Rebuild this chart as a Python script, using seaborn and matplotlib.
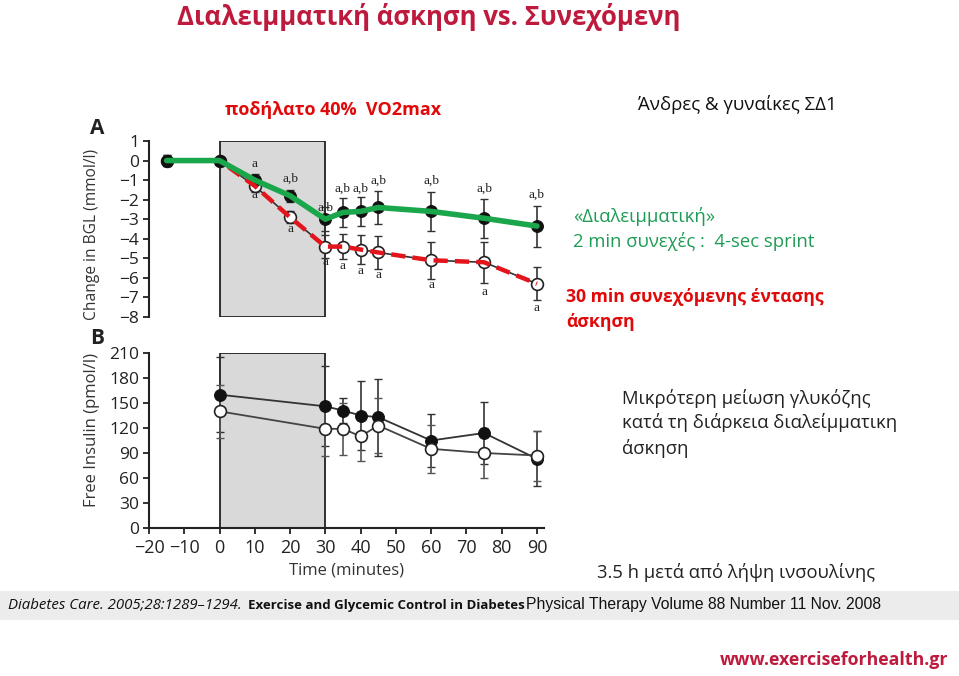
import numpy as np
import pandas as pd
import matplotlib
matplotlib.use("Agg")
import matplotlib.pyplot as plt
import seaborn as sns

# ---------------- data ----------------
time_A = [-15, 0, 10, 20, 30, 35, 40, 45, 60, 75, 90]
bgl_interval = [0, 0, -1.0, -1.8, -3.0, -2.65, -2.6, -2.4, -2.6, -2.95, -3.35]
bgl_continuous = [0, 0, -1.3, -2.9, -4.4, -4.4, -4.55, -4.7, -5.1, -5.2, -6.3]
bgl_interval_err = [0.3, 0, 0.3, 0.3, 0.6, 0.75, 0.75, 0.85, 1.0, 1.0, 1.05]
bgl_continuous_err = [0.3, 0, 0.3, 0.3, 0.6, 0.65, 0.75, 0.85, 0.95, 1.05, 0.85]

ann_top_x = [10, 20, 30, 35, 40, 45, 60, 75, 90]
ann_top_y = [-0.2, -0.95, -2.4, -1.45, -1.45, -1.05, -1.05, -1.45, -1.75]
ann_top_text = ["a", "a,b", "a,b", "a,b", "a,b", "a,b", "a,b", "a,b", "a,b"]
ann_bot_x = [10, 20, 30, 35, 40, 45, 60, 75, 90]
ann_bot_y = [-1.75, -3.5, -5.2, -5.4, -5.65, -5.85, -6.35, -6.7, -7.55]

time_B = [0, 30, 35, 40, 45, 60, 75, 90]
ins_interval = [160, 146, 141, 135, 133, 105, 114, 83]
ins_continuous = [140, 119, 119, 110, 123, 95, 90, 87]
ins_interval_err = [45, 48, 15, 41, 46, 32, 37, 33]
ins_continuous_err = [32, 32, 31, 29, 33, 29, 30, 30]

xticks_B = [-20, -10, 0, 10, 20, 30, 40, 50, 60, 70, 80, 90]
yticks_A = [1, 0, -1, -2, -3, -4, -5, -6, -7, -8]
yticks_B = [0, 30, 60, 90, 120, 150, 180, 210]

# ---------------- style ----------------
sns.set_theme(style="white")
plt.rcParams["font.family"] = ["Open Sans", "DejaVu Sans"]
plt.rcParams["axes.unicode_minus"] = True

W, H = 959, 676
fig = plt.figure(figsize=(W / 100, H / 100), dpi=100)
fig.patch.set_facecolor("white")


def fx(x):
    return x / W


def fy(y):
    return 1 - y / H


def axes_px(left, top, right, bottom):
    return fig.add_axes([fx(left), fy(bottom), fx(right) - fx(left), (bottom - top) / H])


XL = (-20, 92)
axA = axes_px(149, 141, 544, 317)
axB = axes_px(149, 353, 544, 528)

chart_font = ["Open Sans", "DejaVu Sans"]
serif_font = ["Liberation Serif", "DejaVu Serif"]

# ---------------- Panel A ----------------
dfA = pd.DataFrame({"time": time_A, "interval": bgl_interval, "continuous": bgl_continuous})
axA.axvspan(0, 30, ymin=0, ymax=1, facecolor="#d9d9d9", edgecolor="#222222", lw=1.3, zorder=0)
axA.errorbar(time_A, bgl_interval, yerr=bgl_interval_err, fmt="none", ecolor="#333333",
             elinewidth=1.2, capsize=3, zorder=2)
axA.errorbar(time_A, bgl_continuous, yerr=bgl_continuous_err, fmt="none", ecolor="#333333",
             elinewidth=1.2, capsize=3, zorder=2)
sns.lineplot(data=dfA, x="time", y="continuous", ax=axA, color="#333333", lw=1.2,
             marker="o", markersize=8.5, markerfacecolor="white", markeredgecolor="#222222",
             markeredgewidth=1.2, zorder=3)
sns.lineplot(data=dfA, x="time", y="interval", ax=axA, color="#333333", lw=1.2,
             marker="o", markersize=8.5, markerfacecolor="#111111", markeredgecolor="#111111",
             zorder=3)
# coloured overlay lines
sns.lineplot(data=dfA, x="time", y="continuous", ax=axA, color="#e3141b", lw=3.2,
             linestyle=(0, (3.2, 1.6)), zorder=5)
sns.lineplot(data=dfA, x="time", y="interval", ax=axA, color="#1aa64a", lw=4.0, zorder=6)

for x, y, t in zip(ann_top_x, ann_top_y, ann_top_text):
    axA.text(x, y, t, ha="center", va="center", fontsize=9.5, family=serif_font,
             color="#222222", zorder=7)
for x, y in zip(ann_bot_x, ann_bot_y):
    axA.text(x, y, "a", ha="center", va="center", fontsize=9.5, family=serif_font,
             color="#222222", zorder=7)

axA.set_xlim(*XL)
axA.set_ylim(-8, 1)
axA.set_yticks(yticks_A)
axA.set_xticks([])
for s in ["top", "right", "bottom"]:
    axA.spines[s].set_visible(False)
axA.spines["left"].set_color("#222222")
axA.spines["left"].set_linewidth(1.5)
axA.tick_params(axis="y", left=True, length=4, width=1.3, color="#222222",
                labelsize=12.5, pad=3, labelcolor="#222222")
for lab in axA.get_yticklabels():
    lab.set_family(chart_font)
axA.set_xlabel("")
axA.set_ylabel("Change in BGL (mmol/l)", fontsize=11.2, family=chart_font, color="#333333",
               labelpad=6)
axA.yaxis.set_label_coords(-0.125, 0.47)
axA.patch.set_alpha(0)

# ---------------- Panel B ----------------
dfB = pd.DataFrame({"time": time_B, "interval": ins_interval, "continuous": ins_continuous})
axB.axvspan(0, 30, facecolor="#d9d9d9", edgecolor="#222222", lw=1.3, zorder=0)
axB.errorbar(time_B, ins_interval, yerr=ins_interval_err, fmt="none", ecolor="#333333",
             elinewidth=1.2, capsize=3, zorder=2)
axB.errorbar(time_B, ins_continuous, yerr=ins_continuous_err, fmt="none", ecolor="#555555",
             elinewidth=1.2, capsize=3, zorder=2)
sns.lineplot(data=dfB, x="time", y="interval", ax=axB, color="#333333", lw=1.3,
             marker="o", markersize=8.5, markerfacecolor="#111111", markeredgecolor="#111111",
             zorder=3)
sns.lineplot(data=dfB, x="time", y="continuous", ax=axB, color="#444444", lw=1.3,
             marker="o", markersize=8.5, markerfacecolor="white", markeredgecolor="#222222",
             markeredgewidth=1.2, zorder=4)
axB.set_xlim(*XL)
axB.set_ylim(0, 210)
axB.set_xticks(xticks_B)
axB.set_yticks(yticks_B)
for s in ["top", "right"]:
    axB.spines[s].set_visible(False)
for s in ["left", "bottom"]:
    axB.spines[s].set_color("#222222")
    axB.spines[s].set_linewidth(1.5)
axB.tick_params(axis="both", left=True, bottom=True, length=4, width=1.3, color="#222222",
                labelsize=12.5, pad=3, labelcolor="#222222")
axB.tick_params(axis="x", labelsize=13, pad=4)
for lab in axB.get_xticklabels() + axB.get_yticklabels():
    lab.set_family(chart_font)
axB.set_xlabel("Time (minutes)", fontsize=12, family=chart_font, color="#333333", labelpad=4)
axB.set_ylabel("Free Insulin (pmol/l)", fontsize=12, family=chart_font, color="#333333",
               labelpad=6)
axB.yaxis.set_label_coords(-0.125, 0.56)
axB.patch.set_alpha(0)

# panel letters
fig.text(fx(90), fy(128), "A", fontsize=15, fontweight="bold", family=chart_font,
         color="#222222", ha="left", va="center")
fig.text(fx(90), fy(339), "B", fontsize=15, fontweight="bold", family=chart_font,
         color="#222222", ha="left", va="center")

# ---------------- slide text ----------------
crimson = "#be1a3d"
red = "#e00a0a"
green = "#1e9c55"
txt = ["Open Sans", "DejaVu Sans"]

fig.text(fx(429), fy(17), "Διαλειμματική άσκηση vs. Συνεχόμενη", fontsize=18.5,
         fontweight="bold", color=crimson, family=txt, ha="center", va="center")
fig.text(fx(333), fy(110), "ποδήλατο 40%  VO2max", fontsize=13, fontweight="bold",
         color=red, family=txt, ha="center", va="center")
fig.text(fx(737), fy(104), "Άνδρες & γυναίκες ΣΔ1", fontsize=13.4, color="#111111",
         family=txt, ha="center", va="center")
fig.text(fx(573), fy(216), "«Διαλειμματική»", fontsize=13.3, color=green, family=txt,
         ha="left", va="center")
fig.text(fx(573), fy(242), "2 min συνεχές :  4-sec sprint", fontsize=13.3, color=green,
         family=txt, ha="left", va="center")
fig.text(fx(566), fy(297), "30 min συνεχόμενης έντασης", fontsize=12.7, fontweight="bold",
         color=red, family=txt, ha="left", va="center")
fig.text(fx(566), fy(322), "άσκηση", fontsize=12.7, fontweight="bold", color=red,
         family=txt, ha="left", va="center")
fig.text(fx(622), fy(398), "Μικρότερη μείωση γλυκόζης", fontsize=13.3, color="#222222",
         family=txt, ha="left", va="center")
fig.text(fx(622), fy(423), "κατά τη διάρκεια διαλείμματικη", fontsize=13.3, color="#222222",
         family=txt, ha="left", va="center")
fig.text(fx(622), fy(448), "άσκηση", fontsize=13.3, color="#222222", family=txt,
         ha="left", va="center")
fig.text(fx(597), fy(572), "3.5 h μετά από λήψη ινσουλίνης", fontsize=13.2,
         color="#222222", family=txt, ha="left", va="center")

# grey citation band
band = plt.Rectangle((0, fy(620)), 1, (620 - 591) / H, transform=fig.transFigure,
                     facecolor="#ececec", edgecolor="none", zorder=0)
fig.patches.append(band)
fig.text(fx(8), fy(605), "Diabetes Care. 2005;28:1289\u20131294.", fontsize=10.8,
         fontstyle="italic", color="#111111", family=txt, ha="left", va="center")
fig.text(fx(248), fy(605), "Exercise and Glycemic Control in Diabetes", fontsize=9.5,
         fontweight="bold", color="#111111", family=txt, ha="left", va="center")
fig.text(fx(526), fy(605), "Physical Therapy Volume 88 Number 11 Nov. 2008",
         fontsize=11.3, color="#111111", family=["Liberation Sans", "DejaVu Sans"],
         ha="left", va="center")

fig.text(fx(948), fy(660), "www.exerciseforhealth.gr", fontsize=12.8, fontweight="bold",
         color=crimson, family=txt, ha="right", va="center")

fig.savefig("out.png", dpi=100)
